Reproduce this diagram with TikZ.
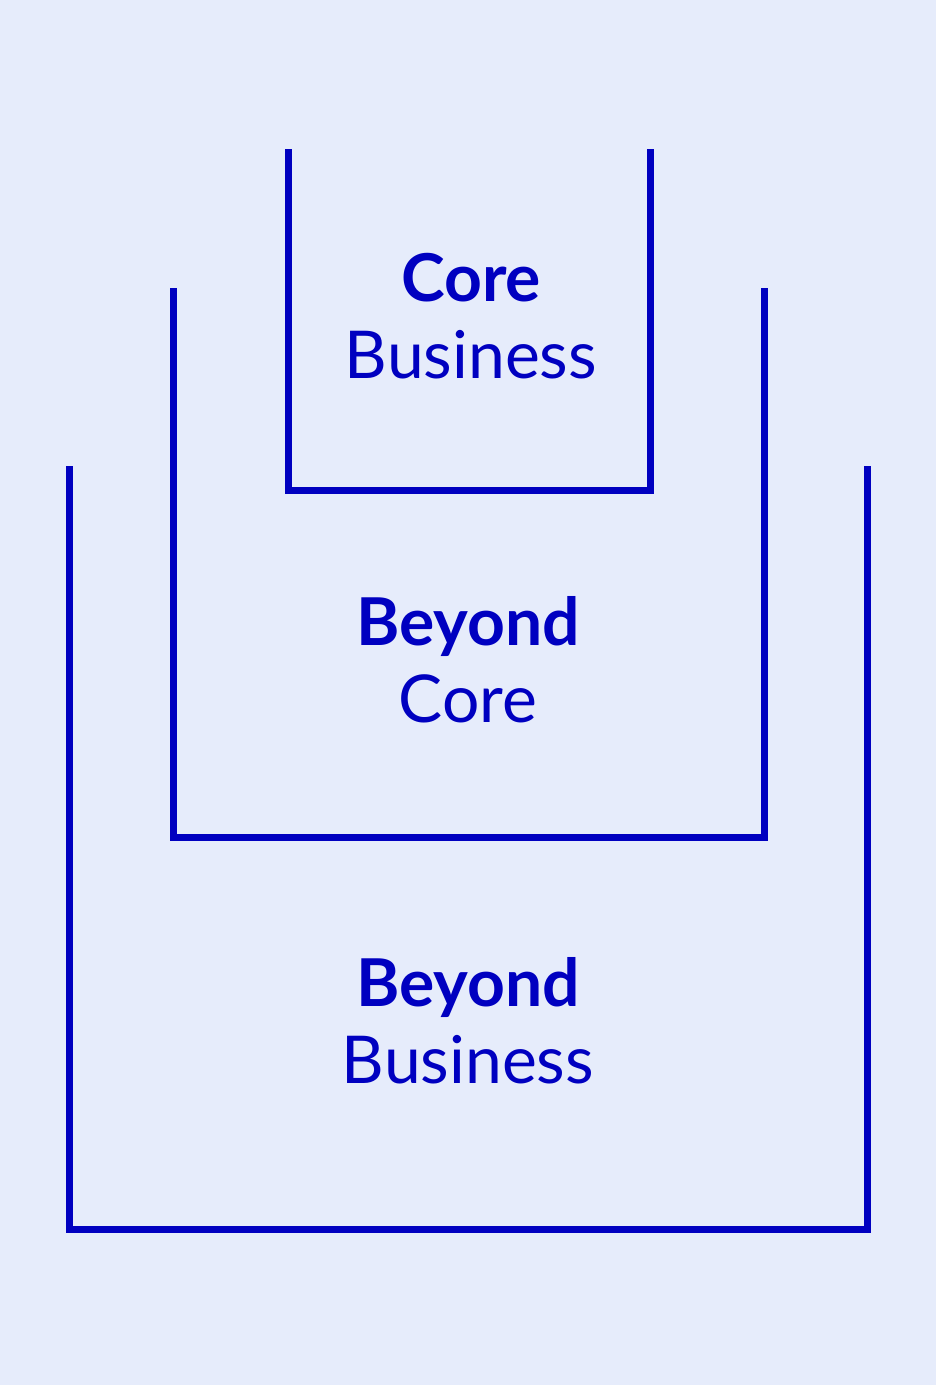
\documentclass[tikz,border=0pt]{standalone}
\usepackage{fontspec}
\setmainfont{Lato}
\definecolor{bgblue}{HTML}{E6ECFB}
\definecolor{inkblue}{HTML}{0000C0}
\tikzset{
  cup/.style={draw=inkblue, line width=7pt},
  lbl/.style={text=inkblue, align=center, anchor=base, inner sep=0pt,
    font=\fontsize{66}{77}\selectfont}
}
\begin{document}
\begin{tikzpicture}[x=1pt,y=-1pt]
    \fill[bgblue] (0,0) rectangle (936,1385);
    \useasboundingbox (0,0) rectangle (936,1385);
    \draw[cup] (288,149) -- (288,490) -- (650,490) -- (650,149);
    \draw[cup] (173,288) -- (173,837) -- (764,837) -- (764,288);
    \draw[cup] (69,466) -- (69,1229) -- (867,1229) -- (867,466);
    \node[lbl] (corebiz) at (471,378) {\textbf{Core}\\Business};
    \node[lbl] (beyondcore) at (468,722) {\textbf{Beyond}\\Core};
    \node[lbl] (beyondbiz) at (468,1083) {\textbf{Beyond}\\Business};
\end{tikzpicture}
\end{document}
